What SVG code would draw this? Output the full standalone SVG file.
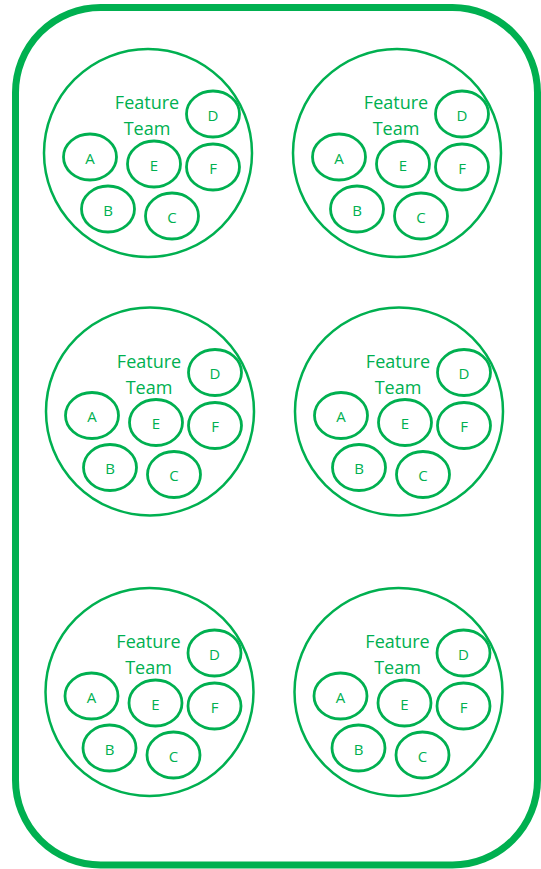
<svg xmlns="http://www.w3.org/2000/svg" width="541" height="869" viewBox="0 0 541 869">
<style>
.frame{fill:none;stroke:#00B050;stroke-width:7}
.team{fill:none;stroke:#00B050;stroke-width:2.5}
.mem{fill:none;stroke:#00B050;stroke-width:2.8}
.t{fill:#00B050;font-family:"Open Sans","Liberation Sans",sans-serif;text-anchor:middle}
.big{font-size:18px}
.sm{font-size:15px}
</style>
<rect width="541" height="869" fill="#ffffff"/>
<g id="frame"><rect class="frame" x="15.5" y="7.5" width="522" height="857.5" rx="85" ry="85"/></g>

<g id="team1" transform="translate(148,153)">
<circle class="team" r="104"/>
<text class="t big" x="-1" y="-44">Feature</text><text class="t big" x="-1" y="-18">Team</text>
<ellipse class="mem" cx="65" cy="-39" rx="26.5" ry="23"/><text class="t sm" x="65" y="-32.5">D</text>
<ellipse class="mem" cx="-58" cy="4" rx="26.5" ry="23"/><text class="t sm" x="-58" y="10.5">A</text>
<ellipse class="mem" cx="6" cy="11" rx="26.5" ry="23"/><text class="t sm" x="6" y="17.5">E</text>
<ellipse class="mem" cx="65" cy="14" rx="26.5" ry="23"/><text class="t sm" x="65" y="20.5">F</text>
<ellipse class="mem" cx="-40" cy="56" rx="26.5" ry="23"/><text class="t sm" x="-40" y="62.5">B</text>
<ellipse class="mem" cx="24" cy="63" rx="26.5" ry="23"/><text class="t sm" x="24" y="69.5">C</text>
</g>

<g id="team2" transform="translate(397,153)">
<circle class="team" r="104"/>
<text class="t big" x="-1" y="-44">Feature</text><text class="t big" x="-1" y="-18">Team</text>
<ellipse class="mem" cx="65" cy="-39" rx="26.5" ry="23"/><text class="t sm" x="65" y="-32.5">D</text>
<ellipse class="mem" cx="-58" cy="4" rx="26.5" ry="23"/><text class="t sm" x="-58" y="10.5">A</text>
<ellipse class="mem" cx="6" cy="11" rx="26.5" ry="23"/><text class="t sm" x="6" y="17.5">E</text>
<ellipse class="mem" cx="65" cy="14" rx="26.5" ry="23"/><text class="t sm" x="65" y="20.5">F</text>
<ellipse class="mem" cx="-40" cy="56" rx="26.5" ry="23"/><text class="t sm" x="-40" y="62.5">B</text>
<ellipse class="mem" cx="24" cy="63" rx="26.5" ry="23"/><text class="t sm" x="24" y="69.5">C</text>
</g>

<g id="team3" transform="translate(150,411.5)">
<circle class="team" r="104"/>
<text class="t big" x="-1" y="-44">Feature</text><text class="t big" x="-1" y="-18">Team</text>
<ellipse class="mem" cx="65" cy="-39" rx="26.5" ry="23"/><text class="t sm" x="65" y="-32.5">D</text>
<ellipse class="mem" cx="-58" cy="4" rx="26.5" ry="23"/><text class="t sm" x="-58" y="10.5">A</text>
<ellipse class="mem" cx="6" cy="11" rx="26.5" ry="23"/><text class="t sm" x="6" y="17.5">E</text>
<ellipse class="mem" cx="65" cy="14" rx="26.5" ry="23"/><text class="t sm" x="65" y="20.5">F</text>
<ellipse class="mem" cx="-40" cy="56" rx="26.5" ry="23"/><text class="t sm" x="-40" y="62.5">B</text>
<ellipse class="mem" cx="24" cy="63" rx="26.5" ry="23"/><text class="t sm" x="24" y="69.5">C</text>
</g>

<g id="team4" transform="translate(399,411.5)">
<circle class="team" r="104"/>
<text class="t big" x="-1" y="-44">Feature</text><text class="t big" x="-1" y="-18">Team</text>
<ellipse class="mem" cx="65" cy="-39" rx="26.5" ry="23"/><text class="t sm" x="65" y="-32.5">D</text>
<ellipse class="mem" cx="-58" cy="4" rx="26.5" ry="23"/><text class="t sm" x="-58" y="10.5">A</text>
<ellipse class="mem" cx="6" cy="11" rx="26.5" ry="23"/><text class="t sm" x="6" y="17.5">E</text>
<ellipse class="mem" cx="65" cy="14" rx="26.5" ry="23"/><text class="t sm" x="65" y="20.5">F</text>
<ellipse class="mem" cx="-40" cy="56" rx="26.5" ry="23"/><text class="t sm" x="-40" y="62.5">B</text>
<ellipse class="mem" cx="24" cy="63" rx="26.5" ry="23"/><text class="t sm" x="24" y="69.5">C</text>
</g>

<g id="team5" transform="translate(149.5,692)">
<circle class="team" r="104"/>
<text class="t big" x="-1" y="-44">Feature</text><text class="t big" x="-1" y="-18">Team</text>
<ellipse class="mem" cx="65" cy="-39" rx="26.5" ry="23"/><text class="t sm" x="65" y="-32.5">D</text>
<ellipse class="mem" cx="-58" cy="4" rx="26.5" ry="23"/><text class="t sm" x="-58" y="10.5">A</text>
<ellipse class="mem" cx="6" cy="11" rx="26.5" ry="23"/><text class="t sm" x="6" y="17.5">E</text>
<ellipse class="mem" cx="65" cy="14" rx="26.5" ry="23"/><text class="t sm" x="65" y="20.5">F</text>
<ellipse class="mem" cx="-40" cy="56" rx="26.5" ry="23"/><text class="t sm" x="-40" y="62.5">B</text>
<ellipse class="mem" cx="24" cy="63" rx="26.5" ry="23"/><text class="t sm" x="24" y="69.5">C</text>
</g>

<g id="team6" transform="translate(398.5,692)">
<circle class="team" r="104"/>
<text class="t big" x="-1" y="-44">Feature</text><text class="t big" x="-1" y="-18">Team</text>
<ellipse class="mem" cx="65" cy="-39" rx="26.5" ry="23"/><text class="t sm" x="65" y="-32.5">D</text>
<ellipse class="mem" cx="-58" cy="4" rx="26.5" ry="23"/><text class="t sm" x="-58" y="10.5">A</text>
<ellipse class="mem" cx="6" cy="11" rx="26.5" ry="23"/><text class="t sm" x="6" y="17.5">E</text>
<ellipse class="mem" cx="65" cy="14" rx="26.5" ry="23"/><text class="t sm" x="65" y="20.5">F</text>
<ellipse class="mem" cx="-40" cy="56" rx="26.5" ry="23"/><text class="t sm" x="-40" y="62.5">B</text>
<ellipse class="mem" cx="24" cy="63" rx="26.5" ry="23"/><text class="t sm" x="24" y="69.5">C</text>
</g>
<g id="connectors"/>
</svg>
